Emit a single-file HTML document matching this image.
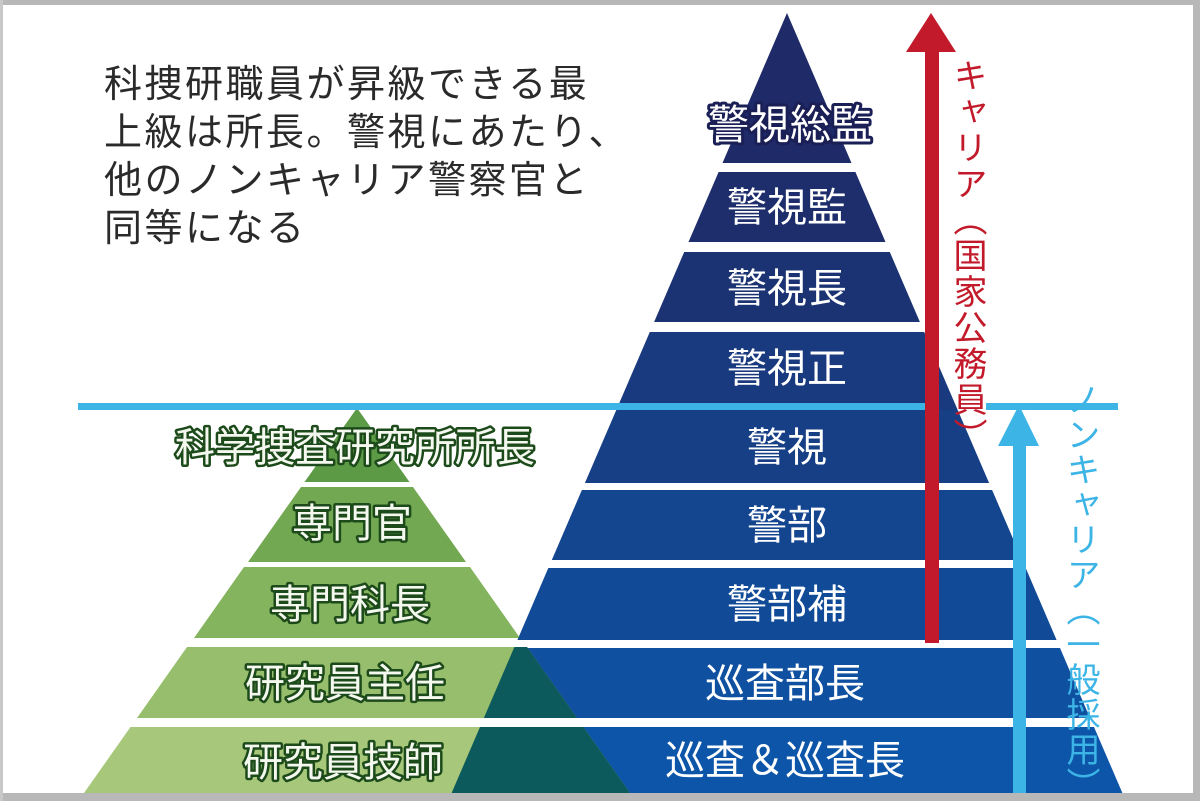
<!DOCTYPE html>
<html><head><meta charset="utf-8"><style>
html,body{margin:0;padding:0;}
body{width:1200px;height:801px;position:relative;overflow:hidden;background:#fff;font-family:"Liberation Sans","Noto Sans CJK JP",sans-serif;}
svg{position:absolute;left:0;top:0;}
.v{position:absolute;writing-mode:vertical-rl;font-size:34px;line-height:40px;letter-spacing:2px;font-family:"Liberation Sans","Noto Sans CJK JP",sans-serif;}
.p{position:absolute;left:104px;top:61px;font-size:38px;line-height:48px;color:#2a2a2a;letter-spacing:2.5px;}
</style></head><body>
<svg width="1200" height="801" viewBox="0 0 1200 801">
<defs>
<clipPath id="gc">
<polygon points="357,408 304.5,482 409.5,482"/>
<polygon points="301,487 413,487 466,562 248,562"/>
<polygon points="244,567 470,567 520,638 194,638"/>
<polygon points="187,647 527,647 577,718 137,718"/>
<polygon points="130.5,727 583.5,727 630,793 84,793"/>
</clipPath>
</defs>
<g>
<polygon points="787,13 851.5,163 722.5,163" fill="#1f2a68"/>
<polygon points="718.6,172 855.4,172 885.5,242 688.5,242" fill="#1e2d6c"/>
<polygon points="684.2,252 889.8,252 919.9,322 654.1,322" fill="#1b3373"/>
<polygon points="649.8,332 924.2,332 957.7,410 616.3,410" fill="#193a7e"/>
<polygon points="616.3,410 957.7,410 989.1,483 584.9,483" fill="#173f86"/>
<polygon points="581.9,490 992.1,490 1022.2,560 551.8,560" fill="#14458f"/>
<polygon points="548.3,568 1025.7,568 1056.6,640 517.4,640" fill="#114b98"/>
<polygon points="514,648 1060,648 1090,718 484,718" fill="#0f50a0"/>
<polygon points="480,727 1094,727 1122.4,793 451.6,793" fill="#0d55a8"/>
</g>
<g>
<polygon points="357,408 304.5,482 409.5,482" fill="#5d9a45"/>
<polygon points="301,487 413,487 466,562 248,562" fill="#73a852"/>
<polygon points="244,567 470,567 520,638 194,638" fill="#85b45e"/>
<polygon points="187,647 527,647 577,718 137,718" fill="#97be6c"/>
<polygon points="130.5,727 583.5,727 630,793 84,793" fill="#a7c87a"/>
</g>
<g clip-path="url(#gc)" fill="#0d5a5c">
<polygon points="787,13 1122.4,793 451.6,793"/>
</g>
<rect x="78" y="403" width="848" height="7" fill="#3cb4e6"/>
<rect x="986" y="403" width="132" height="7" fill="#3cb4e6"/>
<rect x="925" y="48" width="14" height="595" fill="#c21a2a"/>
<polygon points="931,13 956,52 906,52" fill="#c21a2a"/>
<rect x="1013" y="440" width="13" height="353" fill="#3cb4e6"/>
<polygon points="1019,405 1039,446 998,446" fill="#3cb4e6"/>
<g font-family="Liberation Sans, Noto Sans CJK JP, sans-serif" font-size="40" text-anchor="middle" fill="#fff">
<text x="790" y="139" font-size="41" stroke="#1a1f55" stroke-width="6" paint-order="stroke" stroke-linejoin="round">警視総監</text>
<text x="787" y="221">警視監</text>
<text x="787" y="302">警視長</text>
<text x="787" y="382">警視正</text>
<text x="787" y="461">警視</text>
<text x="787" y="539">警部</text>
<text x="787" y="618">警部補</text>
<text x="785" y="697">巡査部長</text>
<text x="785" y="774">巡査＆巡査長</text>
</g>
<g font-family="Liberation Sans, Noto Sans CJK JP, sans-serif" font-size="40" text-anchor="middle" fill="#f4f8ee" stroke="#1c4a1a" stroke-width="5" paint-order="stroke" stroke-linejoin="round">
<text x="355" y="461">科学捜査研究所所長</text>
<text x="352" y="537">専門官</text>
<text x="350" y="618">専門科長</text>
<text x="345" y="697">研究員主任</text>
<text x="343" y="776">研究員技師</text>
</g>
<rect x="0" y="0" width="1200" height="5" fill="#b8b8b8"/>
<rect x="1193" y="0" width="7" height="801" fill="#b8b8b8"/>
<rect x="0" y="793" width="1200" height="8" fill="#b8b8b8"/>
<rect x="0" y="0" width="3" height="801" fill="#c8c8c8"/>
</svg>
<div class="p">科捜研職員が昇級できる最<br>上級は所長。警視にあたり、<br>他のノンキャリア警察官と<br>同等になる</div>
<div class="v" style="left:947px;top:58px;color:#c21a2a;">キャリア（国家公務員）</div>
<div class="v" style="left:1060px;top:382px;color:#3cb4e6;letter-spacing:1px;">ノンキャリア（一般採用）</div>
</body></html>
